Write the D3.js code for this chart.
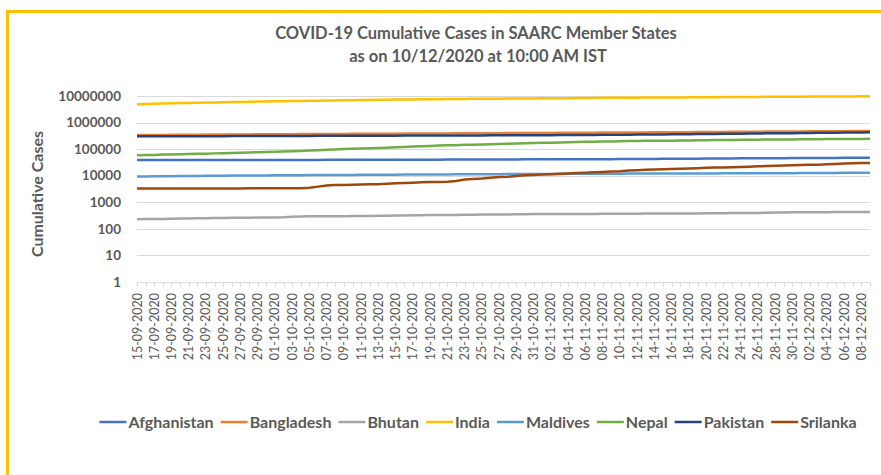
<!DOCTYPE html>
<html lang="en">

<head>
    <meta charset="UTF-8">
    <title>COVID-19 Cumulative Cases in SAARC Member States</title>
    <script src="https://d3js.org/d3.v7.min.js"></script>
    <style>
    body {
        margin: 0;
        background: #fff;
    }

    .grid line {
        stroke: #d9d9d9;
        stroke-width: 1px;
    }

    .line {
        fill: none;
        stroke-width: 2.5px;
        stroke-linejoin: round;
    }

    text {
        font-family: Lato, "Open Sans", sans-serif;
        fill: #595959;
    }
    </style>
</head>

<body>
    <svg id="chart" width="881" height="475"></svg>
    <script>
    // one value per day, 15-09-2020 .. 09-12-2020
    var startDate = new Date(2020, 8, 15);
    var dayCount = 86;

    var countries = ['Afghanistan', 'Bangladesh', 'Bhutan', 'India', 'Maldives', 'Nepal', 'Pakistan', 'Srilanka'];
    var colors = ['#4472c4', '#ed7d31', '#a5a5a5', '#ffc000', '#5b9bd5', '#70ad47', '#264478', '#9e480e'];

    var yTicks = [1, 10, 100, 1000, 10000, 100000, 1000000, 10000000];

    var afghanistan = [
        38716, 38772, 38815, 38855, 38872, 38883, 38919, 39044, 39074, 39096, 39145, 39170, 39186, 39192, 39227, 39254,
        39268, 39285, 39290, 39297, 39341, 39422, 39486, 39548, 39616, 39693, 39703, 39799, 39870, 39928, 39994, 40026,
        40073, 40141, 40200, 40287, 40357, 40510, 40626, 40687, 40768, 40833, 40937, 41032, 41145, 41268, 41334,
        41425, 41501, 41633, 41728, 41814, 41935, 41975, 42033, 42092, 42297, 42463, 42609, 42795, 42969, 43035,
        43240, 43403, 43628, 43728, 44228, 44443, 44503, 44706, 44988, 45174, 45384, 45600, 45723, 45839, 45966,
        46116, 46215, 46498, 46718, 46837, 46980, 47072, 47258, 47306
    ];
    var bangladesh = [
        339332, 341056, 342671, 344264, 345805, 347372, 348916, 350621, 352178, 353844, 355384, 356767, 357873, 359148, 360555, 362043,
        363479, 364987, 366383, 367565, 368690, 370132, 371631, 373151, 374592, 375870, 377073, 378266, 379738, 381275, 382959, 384559,
        385961, 387295, 388569, 390206, 391586, 393131, 394827, 396413, 397507, 398815, 400251, 401586, 403079, 404760, 406364,
        407684, 409252, 410988, 412647, 414164, 416006, 417475, 418764, 420238, 421921, 423620, 425353, 427198, 428965, 430496,
        432333, 434472, 436684, 438795, 441159, 443434, 445281, 447341, 449760, 451990, 454146, 456438, 458711, 460619, 462407,
        464932, 467225, 469423, 471739, 473991, 475789, 477545, 479743, 481945
    ];
    var bhutan = [
        231, 234, 236, 236, 241, 243, 248, 250, 253, 254, 255, 261, 262, 262, 266, 270,
        270, 274, 284, 289, 296, 296, 300, 301, 301, 303, 307, 307, 313, 314, 315, 317,
        323, 325, 331, 332, 333, 335, 338, 343, 345, 345, 347, 348, 353, 355, 359,
        359, 361, 362, 363, 364, 365, 366, 369, 370, 373, 373, 374, 375, 377, 379,
        380, 380, 381, 381, 383, 386, 390, 392, 393, 396, 398, 407, 412, 415, 418,
        423, 423, 424, 426, 428, 430, 431, 433, 435
    ];
    var india = [
        4930236, 5020359, 5118253, 5214677, 5308014, 5400619, 5487580, 5562663, 5646010, 5732518, 5818570, 5903932, 5992532, 6074702, 6145291, 6225763,
        6312584, 6394068, 6473544, 6549373, 6623815, 6685082, 6757131, 6835655, 6906151, 6979423, 7053806, 7120538, 7175880, 7239389, 7307097, 7370468,
        7432680, 7494551, 7550273, 7597063, 7651107, 7706946, 7761312, 7814682, 7864811, 7909959, 7946429, 7990322, 8040203, 8088851, 8137119,
        8184082, 8229313, 8267623, 8313876, 8364086, 8411724, 8462080, 8507754, 8553657, 8591730, 8636011, 8683916, 8728795, 8773479, 8814579,
        8845127, 8874290, 8912907, 8958483, 9004365, 9050597, 9095806, 9139865, 9177840, 9222216, 9266705, 9309787, 9351109, 9392919, 9431691,
        9462809, 9499413, 9534964, 9571559, 9608211, 9644222, 9677203, 9703770, 9735850
    ];
    var maldives = [
        9293, 9397, 9484, 9560, 9636, 9715, 9814, 9854, 9931, 10009, 10060, 10117, 10159, 10209, 10238, 10291,
        10344, 10402, 10451, 10491, 10538, 10598, 10644, 10670, 10719, 10752, 10796, 10839, 10890, 10928, 10981, 11017,
        11060, 11098, 11138, 11165, 11214, 11241, 11278, 11322, 11365, 11414, 11450, 11490, 11524, 11582, 11620,
        11663, 11698, 11723, 11756, 11790, 11817, 11850, 11892, 11928, 11964, 11993, 12032, 12052, 12066, 12082,
        12100, 12120, 12145, 12180, 12212, 12239, 12262, 12294, 12325, 12352, 12380, 12404, 12434, 12463, 12489,
        12553, 12611, 12665, 12709, 12759, 12810, 12853, 12913, 12968
    ];
    var nepal = [
        58327, 59573, 60828, 62269, 63448, 64121, 65276, 66631, 67803, 69300, 70613, 71820, 72958, 74744, 76257, 77817,
        79728, 81659, 83191, 85140, 88257, 90814, 94253, 97766, 100648, 103921, 105684, 107755, 110544, 114020, 117996, 121213,
        124838, 128042, 132246, 136036, 139129, 141394, 144872, 147509, 149919, 152557, 156264, 159830, 163997, 167801, 170743,
        172760, 175682, 179614, 182923, 185974, 188883, 191636, 193779, 195884, 198515, 201036, 203258, 205332, 206197, 207610,
        208856, 210886, 213016, 215082, 217046, 218816, 220308, 221975, 223492, 225366, 227640, 229235, 230469, 231919, 232814,
        234570, 235866, 237287, 238431, 239885, 240981, 241995, 243241, 244435
    ];
    var pakistan = [
        302424, 303089, 303634, 304386, 304988, 305671, 306304, 306886, 307418, 308217, 308900, 309581, 310275, 310841, 311516, 312263,
        312806, 313431, 314616, 315260, 315727, 316121, 316934, 317595, 318266, 318932, 319317, 320463, 321218, 321877, 322452, 323019,
        323452, 324084, 324744, 325480, 326216, 327063, 327895, 328602, 329375, 330200, 330800, 331713, 332186, 332993, 333970,
        335005, 336260, 337263, 338875, 340251, 341753, 343189, 344839, 346476, 348184, 349992, 352296, 354461, 356904, 359032,
        361082, 363380, 365927, 368665, 371508, 374173, 376929, 379883, 382892, 386198, 389311, 392356, 395185, 398024, 400482,
        403311, 406810, 410072, 413191, 416499, 420294, 423179, 426197, 429280
    ];
    var srilanka = [
        3271, 3274, 3279, 3280, 3283, 3285, 3287, 3288, 3301, 3305, 3313, 3324, 3333, 3345, 3363, 3380,
        3382, 3388, 3390, 3395, 3513, 3883, 4252, 4459, 4488, 4523, 4628, 4752, 4817, 5038, 5170, 5354,
        5475, 5625, 5811, 5857, 5978, 6287, 7153, 7521, 7872, 8413, 8870, 9205, 9791, 10424, 10663,
        11060, 11335, 11744, 12187, 12571, 12970, 13419, 13929, 14285, 14715, 15722, 16192, 16598, 17287, 17674,
        18075, 18402, 18841, 19280, 19771, 20171, 20507, 20967, 21469, 21959, 22503, 22988, 23484, 23987, 24543,
        25410, 25954, 26038, 27228, 27877, 28580, 29377, 29883, 30072
    ];

    var seriesValues = [afghanistan, bangladesh, bhutan, india, maldives, nepal, pakistan, srilanka];

    var dates = d3.timeDay.range(startDate, d3.timeDay.offset(startDate, dayCount));
    var dateFormat = d3.timeFormat("%d-%m-%Y");

    var series = countries.map(function(c, i) {
        return {
            id: c,
            color: colors[i],
            values: seriesValues[i].map(function(v, j) { return { fecha: dates[j], total: v }; })
        };
    });

    var svg = d3.select("#chart"),
        margin = { top: 96, right: 11, bottom: 193, left: 137 },
        width = svg.attr("width") - margin.left - margin.right,
        height = svg.attr("height") - margin.top - margin.bottom;

    // yellow frame around the chart (right and bottom edges are off-screen)
    svg.append("rect")
        .attr("x", 7.5)
        .attr("y", 11.5)
        .attr("width", 900)
        .attr("height", 500)
        .attr("fill", "none")
        .attr("stroke", "#ffc000")
        .attr("stroke-width", 3);

    svg.append("text")
        .attr("x", 476)
        .attr("y", 39)
        .attr("text-anchor", "middle")
        .attr("font-size", "16.5px")
        .attr("font-weight", "bold")
        .text("COVID-19 Cumulative Cases in SAARC Member States");

    svg.append("text")
        .attr("x", 478)
        .attr("y", 62)
        .attr("text-anchor", "middle")
        .attr("font-size", "16.5px")
        .attr("font-weight", "bold")
        .text("as on 10/12/2020 at 10:00 AM IST");

    var g = svg.append("g").attr("transform", "translate(" + margin.left + "," + margin.top + ")");

    var x = d3.scalePoint().domain(dates).range([0, width]),
        y = d3.scaleLog().domain([1, 10000000]).range([height, 0]);

    // horizontal gridlines
    g.append("g")
        .attr("class", "grid")
        .selectAll("line")
        .data(yTicks)
        .enter().append("line")
        .attr("x1", 0)
        .attr("x2", width)
        .attr("y1", function(d) { return Math.round(y(d)) + 0.5; })
        .attr("y2", function(d) { return Math.round(y(d)) + 0.5; });

    // category ticks under the axis line
    g.append("g")
        .attr("class", "grid")
        .selectAll("line")
        .data(dates)
        .enter().append("line")
        .attr("x1", function(d) { return Math.round(x(d)) + 0.5; })
        .attr("x2", function(d) { return Math.round(x(d)) + 0.5; })
        .attr("y1", Math.round(height) + 0.5)
        .attr("y2", Math.round(height) + 5);

    g.selectAll(".ylabel")
        .data(yTicks)
        .enter().append("text")
        .attr("class", "ylabel")
        .attr("x", -16)
        .attr("y", function(d) { return y(d); })
        .attr("dy", "0.35em")
        .attr("text-anchor", "end")
        .attr("font-size", "13.5px")
        .attr("font-weight", "bold")
        .text(function(d) { return d; });

    g.selectAll(".xlabel")
        .data(dates.filter(function(d, i) { return i % 2 === 0; }))
        .enter().append("text")
        .attr("class", "xlabel")
        .attr("transform", function(d) { return "translate(" + (x(d) + 4.5) + "," + (height + 11) + ") rotate(-90)"; })
        .attr("text-anchor", "end")
        .attr("font-size", "12.5px")
        .text(function(d) { return dateFormat(d); });

    svg.append("text")
        .attr("transform", "translate(43,194) rotate(-90)")
        .attr("text-anchor", "middle")
        .attr("font-size", "16px")
        .attr("font-weight", "bold")
        .text("Cumulative Cases");

    var line = d3.line()
        .x(function(d) { return x(d.fecha); })
        .y(function(d) { return y(d.total); });

    g.selectAll(".country")
        .data(series)
        .enter().append("path")
        .attr("class", "line country")
        .attr("d", function(d) { return line(d.values); })
        .style("stroke", function(d) { return d.color; });

    // legend, laid out left to right and centred
    var legend = svg.append("g");
    var lx = 0;
    series.forEach(function(s) {
        var item = legend.append("g").attr("transform", "translate(" + lx + ",0)");
        item.append("line")
            .attr("x1", 0)
            .attr("x2", 27)
            .attr("y1", 0)
            .attr("y2", 0)
            .attr("stroke", s.color)
            .attr("stroke-width", 2.5);
        var t = item.append("text")
            .attr("x", 29)
            .attr("dy", "0.35em")
            .attr("font-size", "16px")
            .attr("font-weight", "bold")
            .text(s.id);
        lx += 29 + t.node().getComputedTextLength() + 7;
    });
    lx -= 7;
    legend.attr("transform", "translate(" + (478 - lx / 2) + ",422)");
    </script>
</body>

</html>
